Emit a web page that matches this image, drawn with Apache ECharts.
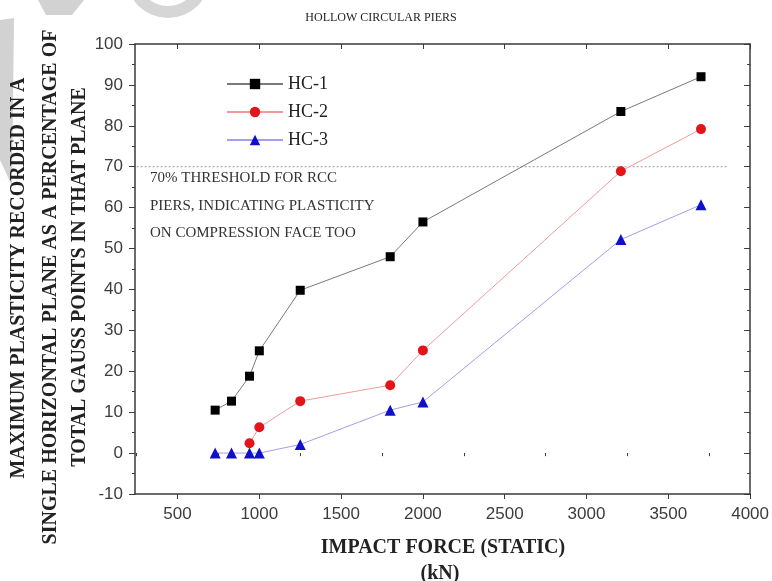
<!DOCTYPE html>
<html>
<head>
<meta charset="utf-8">
<title>Hollow circular piers</title>
<script src="https://cdn.jsdelivr.net/npm/echarts@6/dist/echarts.min.js"></script>
<style>
  html, body { margin: 0; padding: 0; background: #fff; }
  #chart { width: 772px; height: 581px; }
</style>
</head>
<body>
<div id="chart"></div>
<script>
// Impact force (kN, static) applied to each pier
const impactForce = [730, 830, 940, 1000, 1250, 1800, 2000, 3210, 3700];

// Maximum plasticity in a single horizontal plane (% of Gauss points in that plane)
// (HC-2 has no recorded value at the two lowest forces)
const hc1 = [10.5, 12.7, 18.8, 25.0, 39.8, 48.0, 56.5, 83.5, 92.0];
const hc2 = [null, null, 2.4, 6.3, 12.7, 16.6, 25.1, 68.9, 79.2];
const hc3 = [0, 0, 0, 0, 2.1, 10.5, 12.5, 52.2, 60.7];

const seriesNames = ['HC-1', 'HC-2', 'HC-3'];

// 70 % threshold reference line (x extent and level)
const thresholdX = [250, 3860];
const thresholdLevel = 70;

// Axis tick positions
const xMajorTicks = [500, 1000, 1500, 2000, 2500, 3000, 3500, 4000];
const xMinorTicks = [250, 750, 1250, 1750, 2250, 2750, 3250, 3750];

const SERIF = '"Liberation Serif", "Times New Roman", serif';
const SANS = '"Liberation Sans", Arial, sans-serif';
const AXIS_COLOR = '#3a3a3a';

const pair = (xs, ys) => xs.map((x, i) => (ys[i] === null ? [x, '-'] : [x, ys[i]]));
const plain = v => String(v);

const xBase = {
  type: 'value', min: 240, max: 4000,
  splitLine: { show: false },
  axisLine: { show: false },
  axisLabel: { show: false },
  axisTick: { show: false }
};

const chart = echarts.init(document.getElementById('chart'), null, { renderer: 'canvas' });

chart.setOption({
  backgroundColor: '#fff',
  animation: false,
  grid: { left: 135, top: 44, width: 617, height: 450, containLabel: false },
  legend: {
    data: seriesNames,
    orient: 'vertical',
    left: 221,
    top: 70,
    itemWidth: 56,
    itemHeight: 13,
    itemGap: 10,
    textStyle: { fontFamily: SERIF, fontSize: 18, color: '#222' }
  },
  xAxis: [
    Object.assign({}, xBase, {
      position: 'bottom',
      axisLine: { show: true, onZero: false, lineStyle: { color: AXIS_COLOR, width: 1.5 } },
      axisTick: { show: true, length: 5, customValues: xMajorTicks, lineStyle: { color: AXIS_COLOR } },
      axisLabel: { show: true, customValues: xMajorTicks, formatter: plain, margin: 12, fontFamily: SANS, fontSize: 17, color: '#3c3c3c' }
    }),
    Object.assign({}, xBase, {
      position: 'bottom',
      axisTick: { show: true, length: 3, customValues: xMinorTicks, lineStyle: { color: AXIS_COLOR } }
    }),
    Object.assign({}, xBase, {
      position: 'top',
      axisLine: { show: true, onZero: false, lineStyle: { color: AXIS_COLOR, width: 1.5 } },
      axisTick: { show: true, inside: true, length: 5, customValues: xMajorTicks, lineStyle: { color: AXIS_COLOR } }
    }),
    Object.assign({}, xBase, {
      position: 'top',
      axisTick: { show: true, inside: true, length: 3, customValues: xMinorTicks, lineStyle: { color: AXIS_COLOR } }
    })
  ],
  yAxis: [
    {
      type: 'value', min: -10, max: 100, interval: 10, position: 'left',
      splitLine: { show: false },
      axisLine: { show: true, onZero: false, lineStyle: { color: AXIS_COLOR, width: 1.5 } },
      axisTick: { show: true, length: 6, lineStyle: { color: AXIS_COLOR } },
      minorTick: { show: true, splitNumber: 2, length: 3, lineStyle: { color: AXIS_COLOR } },
      axisLabel: { margin: 12, formatter: plain, fontFamily: SANS, fontSize: 17, color: '#3c3c3c' }
    },
    {
      type: 'value', min: -10, max: 100, interval: 10, position: 'right',
      splitLine: { show: false },
      axisLine: { show: true, onZero: false, lineStyle: { color: AXIS_COLOR, width: 1.5 } },
      axisTick: { show: true, inside: true, length: 6, lineStyle: { color: AXIS_COLOR } },
      minorTick: { show: true, splitNumber: 2, length: 3, lineStyle: { color: AXIS_COLOR } },
      axisLabel: { show: false }
    }
  ],
  series: [
    {
      name: 'threshold', type: 'line', silent: true, symbol: 'none',
      data: pair(thresholdX, [thresholdLevel, thresholdLevel]),
      lineStyle: { color: '#9a9a9a', width: 1, type: [2, 2] },
      z: 1
    },
    {
      name: 'HC-1', type: 'line', data: pair(impactForce, hc1),
      symbol: 'rect', symbolSize: 9,
      itemStyle: { color: '#000' },
      lineStyle: { color: '#7a7a7a', width: 1 }
    },
    {
      name: 'HC-2', type: 'line', data: pair(impactForce, hc2),
      symbol: 'circle', symbolSize: 10,
      itemStyle: { color: '#e3141a' },
      lineStyle: { color: '#f29a9a', width: 1 }
    },
    {
      name: 'HC-3', type: 'line', data: pair(impactForce, hc3),
      symbol: 'triangle', symbolSize: 11,
      itemStyle: { color: '#1010cc' },
      lineStyle: { color: '#a0a0ee', width: 1 }
    }
  ],
  graphic: [
    // faint grey marks in the upper-left corner
    { type: 'polygon', silent: true, z: 0,
      shape: { points: [[0, 20], [14, 18], [12, 186], [0, 160]] },
      style: { fill: '#d2d2d2' } },
    { type: 'polygon', silent: true, z: 0,
      shape: { points: [[38, 0], [84, 0], [72, 15], [46, 15]] },
      style: { fill: '#d2d2d2' } },
    { type: 'ring', silent: true, z: 0,
      shape: { cx: 168, cy: -24, r: 42, r0: 30 },
      style: { fill: '#d6d6d6' } },

    // chart title
    { type: 'text', x: 381, y: 18, silent: true,
      style: { text: 'HOLLOW CIRCULAR PIERS', font: '12px ' + SERIF, fill: '#222', align: 'center', verticalAlign: 'middle' } },

    // x axis title
    { type: 'text', x: 443, y: 548, silent: true,
      style: { text: 'IMPACT FORCE (STATIC)', font: 'bold 20px ' + SERIF, fill: '#222', align: 'center', verticalAlign: 'middle' } },
    { type: 'text', x: 440, y: 574, silent: true,
      style: { text: '(kN)', font: 'bold 20px ' + SERIF, fill: '#222', align: 'center', verticalAlign: 'middle' } },

    // y axis title, three lines read bottom to top
    { type: 'text', x: 19, y: 278, rotation: Math.PI / 2, silent: true,
      style: { text: 'MAXIMUM PLASTICITY RECORDED IN A', font: 'bold 20px ' + SERIF, fill: '#222', align: 'center', verticalAlign: 'middle' } },
    { type: 'text', x: 51, y: 287, rotation: Math.PI / 2, silent: true,
      style: { text: 'SINGLE HORIZONTAL PLANE AS A PERCENTAGE OF', font: 'bold 20px ' + SERIF, fill: '#222', align: 'center', verticalAlign: 'middle' } },
    { type: 'text', x: 80, y: 277, rotation: Math.PI / 2, silent: true,
      style: { text: 'TOTAL GAUSS POINTS IN THAT PLANE', font: 'bold 20px ' + SERIF, fill: '#222', align: 'center', verticalAlign: 'middle' } },

    // threshold note
    { type: 'text', x: 150, y: 178, silent: true,
      style: { text: '70% THRESHOLD FOR RCC', font: '15px ' + SERIF, fill: '#333', align: 'left', verticalAlign: 'middle' } },
    { type: 'text', x: 150, y: 206, silent: true,
      style: { text: 'PIERS, INDICATING PLASTICITY', font: '15px ' + SERIF, fill: '#333', align: 'left', verticalAlign: 'middle' } },
    { type: 'text', x: 150, y: 233, silent: true,
      style: { text: 'ON COMPRESSION FACE TOO', font: '15px ' + SERIF, fill: '#333', align: 'left', verticalAlign: 'middle' } }
  ]
});
</script>
</body>
</html>
